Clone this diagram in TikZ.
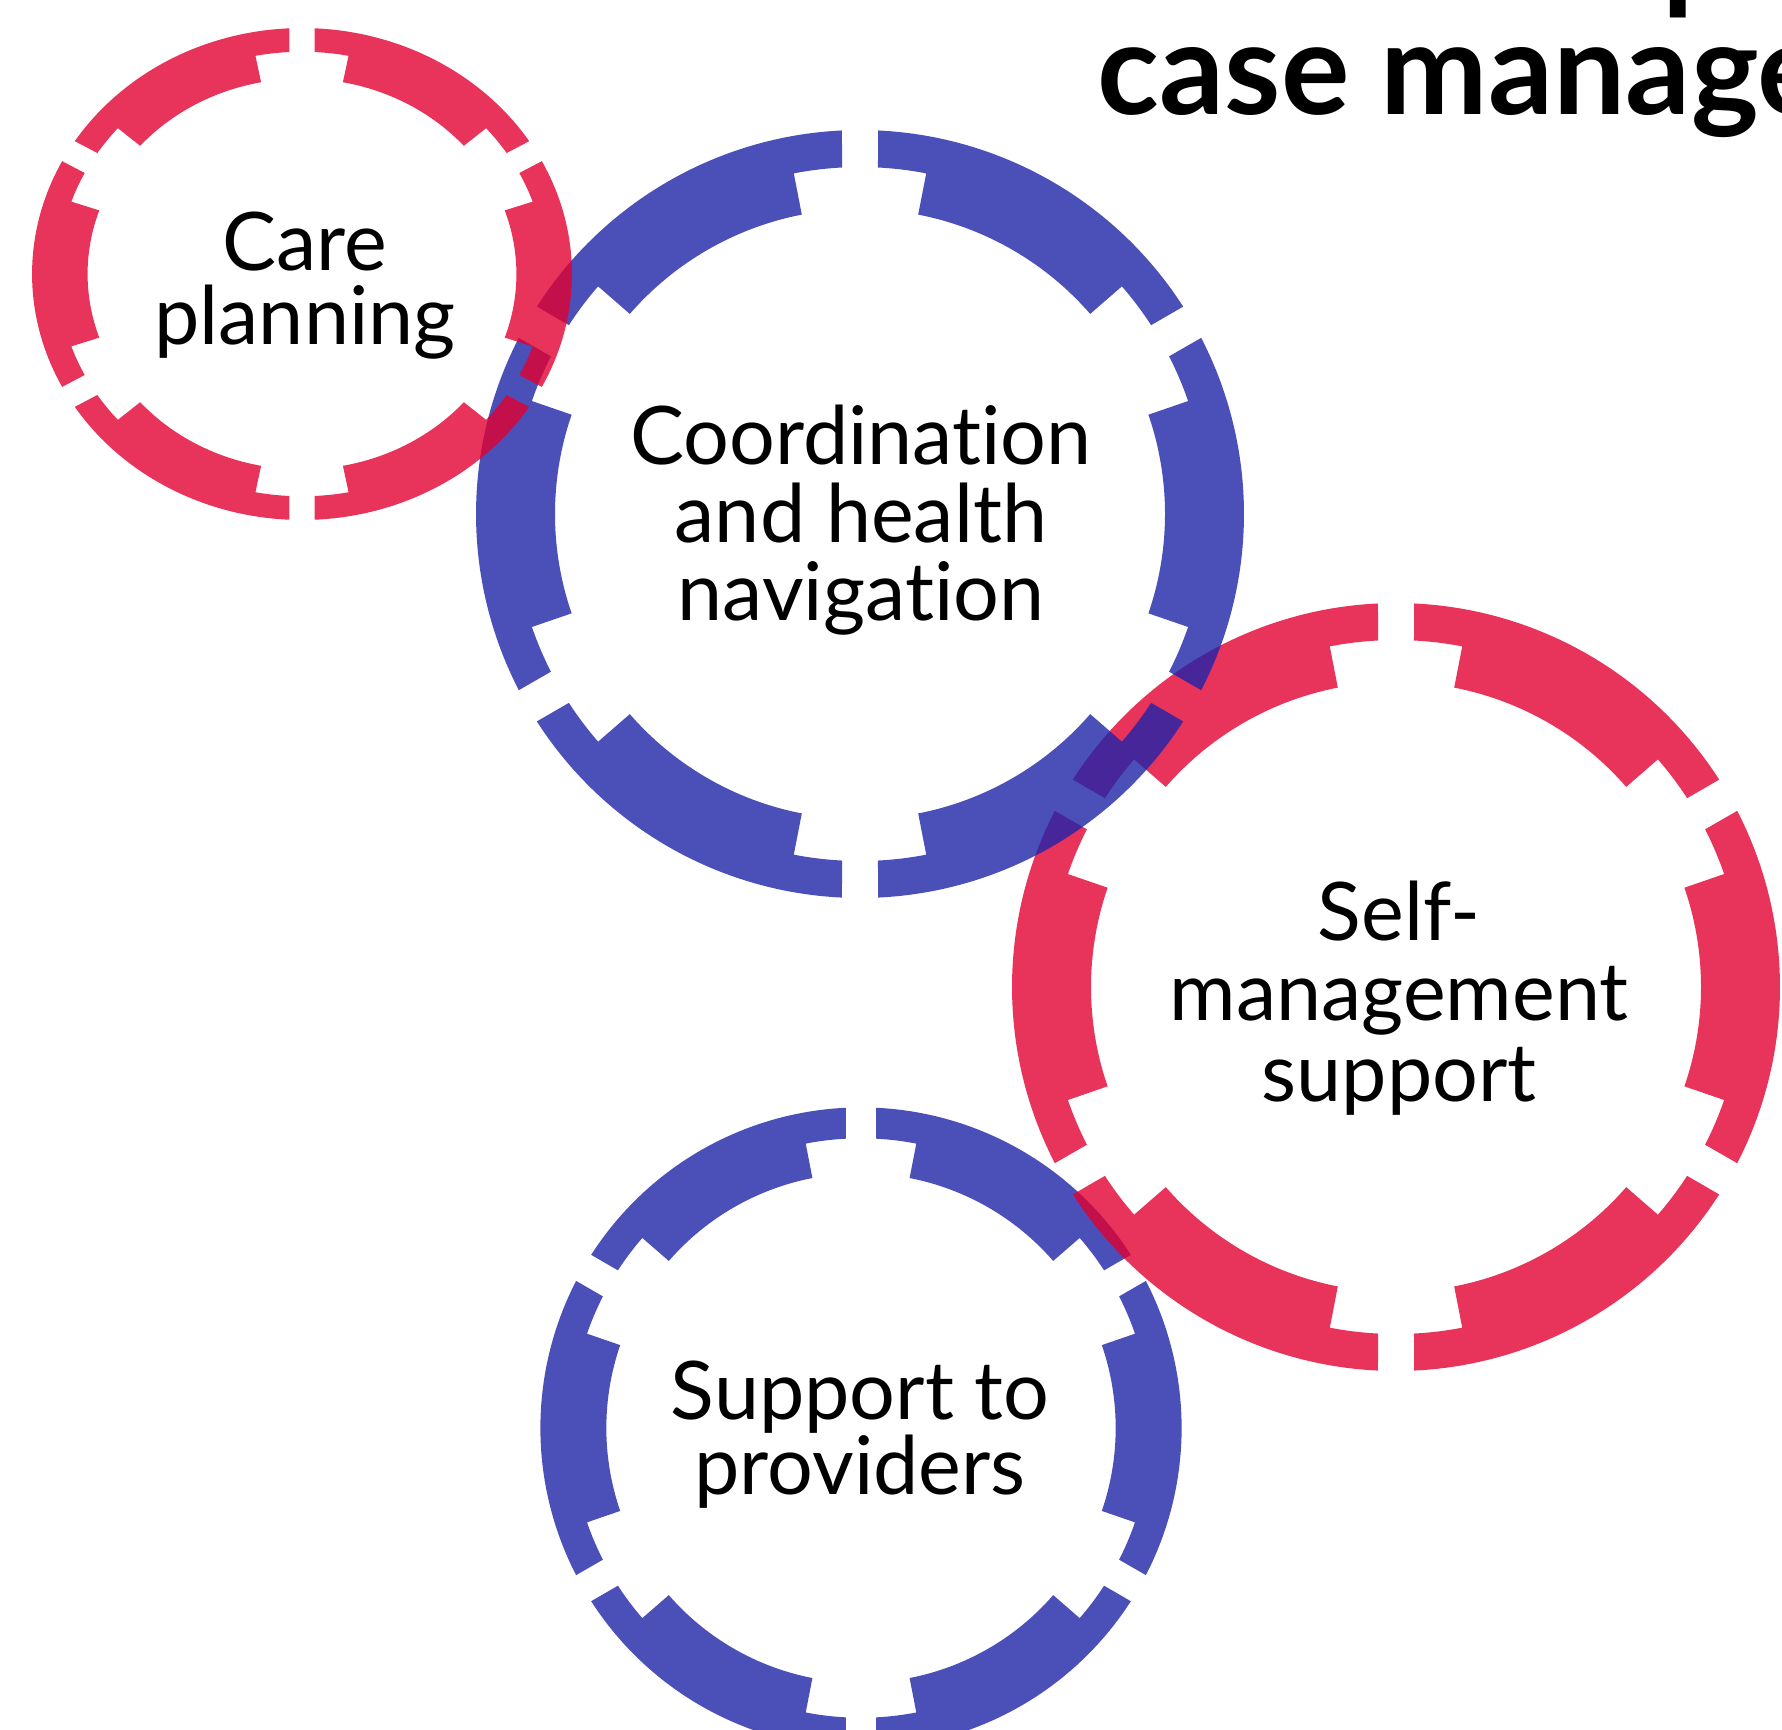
\documentclass[tikz,border=0pt]{standalone}
\usepackage{fontspec}
\setmainfont{Lato}[Ligatures=NoCommon]
\usepackage{tikz}
\definecolor{ringred}{RGB}{226,0,49}
\definecolor{ringblue}{RGB}{30,36,168}
\tikzset{
  ringpart/.pic={
    \foreach \c in {0,60,...,300}
      \fill[#1,fill opacity=0.8,rotate=\c] (27.31:384) arc[start angle=27.31,end angle=-27.31,radius=384]
        -- (-27.03:347) arc[start angle=-27.03,end angle=-19,radius=347]
        -- (-19:305) arc[start angle=-19,end angle=19,radius=305]
        -- (19:347) arc[start angle=19,end angle=27.03,radius=347] -- cycle;
  },
  lbl/.style={font=\fontsize{23}{27}\selectfont,anchor=base,inner sep=0pt}
}

\begin{document}
\begin{tikzpicture}[x=0.1mm,y=0.1mm]
\useasboundingbox (0,0) rectangle (1782,-1729);
\clip (0,0) rectangle (1782,-1729);
% rings, back to front
\pic[scale=0.835] at (861,-1428) {ringpart=ringblue};
\pic at (1396,-987) {ringpart=ringred};
\pic at (860,-514) {ringpart=ringblue};
\pic[xscale=0.703,yscale=0.6406] at (302,-274) {ringpart=ringred};
% labels
\node[lbl] (care1) at (305,-270) {Care};
\node[lbl] (care2) at (305,-344) {planning};
\node[lbl] (coord1) at (861,-464) {Coordination};
\node[lbl] (coord2) at (861,-542) {and health};
\node[lbl] (coord3) at (861,-620) {navigation};
\node[lbl] (self1) at (1399,-940) {Self-};
\node[lbl] (self2) at (1399,-1020) {management};
\node[lbl] (self3) at (1399,-1101) {support};
\node[lbl] (supp1) at (860,-1419) {Support to};
\node[lbl] (supp2) at (860,-1494) {providers};
% heading, cut by the frame
\node[anchor=base west,inner sep=0pt,font=\fontsize{36.5}{40}\selectfont\bfseries] (titlep) at (1662,4) {p};
\node[anchor=base west,inner sep=0pt,font=\fontsize{36.5}{40}\selectfont\bfseries] (title) at (1097,-114) {case management};
\end{tikzpicture}
\end{document}
